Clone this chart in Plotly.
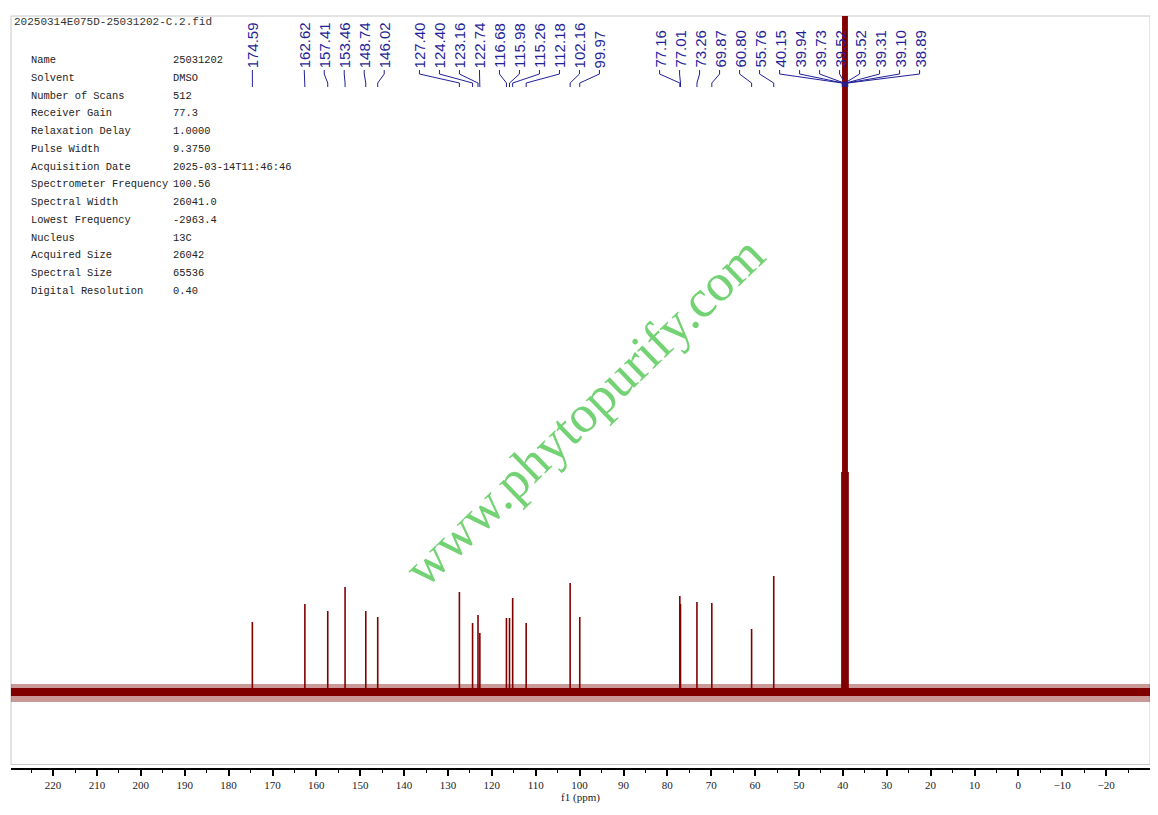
import plotly.graph_objects as go

# ---------------- data ----------------
peak_ppm = [174.59, 162.62, 157.41, 153.46, 148.74, 146.02, 127.40, 124.40, 123.16, 122.74,
            116.68, 115.98, 115.26, 112.18, 102.16, 99.97, 77.16, 77.01, 73.26, 69.87,
            60.80, 55.76, 40.15, 39.94, 39.73, 39.52, 39.52, 39.31, 39.10, 38.89]
peak_height = [70, 88, 81, 105, 81, 75, 100, 69, 77, 59,
               74, 74, 94, 69, 109, 75, 96, 88, 90, 89,
               63, 116, 220, 700, 1300, 1500, 1500, 1300, 700, 220]
peak_label = ["174.59", "162.62", "157.41", "153.46", "148.74", "146.02", "127.40", "124.40",
              "123.16", "122.74", "116.68", "115.98", "115.26", "112.18", "102.16", "99.97",
              "77.16", "77.01", "73.26", "69.87", "60.80", "55.76", "40.15", "39.94", "39.73",
              "39.52", "39.52", "39.31", "39.10", "38.89"]

tick_vals = [220, 210, 200, 190, 180, 170, 160, 150, 140, 130, 120, 110, 100, 90, 80, 70,
             60, 50, 40, 30, 20, 10, 0, -10, -20]

file_title = "20250314E075D-25031202-C.2.fid"
param_names = ["Name", "Solvent", "Number of Scans", "Receiver Gain", "Relaxation Delay",
               "Pulse Width", "Acquisition Date", "Spectrometer Frequency", "Spectral Width",
               "Lowest Frequency", "Nucleus", "Acquired Size", "Spectral Size",
               "Digital Resolution"]
param_values = ["25031202", "DMSO", "512", "77.3", "1.0000", "9.3750", "2025-03-14T11:46:46",
                "100.56", "26041.0", "-2963.4", "13C", "26042", "65536", "0.40"]

watermark = "www.phytopurify.com"

# ---------------- layout constants ----------------
PAGE_W, PAGE_H = 1158, 815
BODY = 8                      # default page body margin
W, H = PAGE_W - BODY, PAGE_H - BODY
PLOT_L, PLOT_R, PLOT_T, PLOT_B = 11, 1150, 16, 769   # plot area in page pixels
L, R, T, B = PLOT_L - BODY, PAGE_W - PLOT_R, PLOT_T - BODY, PAGE_H - PLOT_B
X_RANGE = [229.6, -30.0]
Y_DOMAIN0 = 0.006
Y_RANGE = [-72.5, 676]
NOISE_INNER, NOISE_OUTER = 4, 8
SPEC = "#800000"
LABEL_COLOR = "#1f1f99"
px_per_ppm = (PLOT_R - PLOT_L) / (X_RANGE[0] - X_RANGE[1])
label_gap = 20 / px_per_ppm

dom_bottom_px = PLOT_B - Y_DOMAIN0 * (PLOT_B - PLOT_T)


def px_paper(px, py):
    return (px - PLOT_L) / (PLOT_R - PLOT_L), (PLOT_B - py) / (PLOT_B - PLOT_T)


# ---------------- label spreading (isotonic regression) ----------------
def spread(targets, gap):
    s = [t + i * gap for i, t in enumerate(targets)]
    blocks = []  # [sum, count]
    for v in s:
        blocks.append([v, 1])
        while len(blocks) > 1 and blocks[-2][0] / blocks[-2][1] < blocks[-1][0] / blocks[-1][1]:
            a = blocks.pop()
            blocks[-1][0] += a[0]
            blocks[-1][1] += a[1]
    q = []
    for sm, c in blocks:
        q += [sm / c] * c
    return [qq - i * gap for i, qq in enumerate(q)]


label_pos = spread(peak_ppm, label_gap)

fig = go.Figure()

# baseline noise band
xb = [X_RANGE[0], X_RANGE[1], X_RANGE[1], X_RANGE[0]]
fig.add_trace(go.Scatter(x=xb, y=[NOISE_OUTER, NOISE_OUTER, -NOISE_OUTER - 2, -NOISE_OUTER - 2],
                         fill="toself", fillcolor="rgba(128,0,0,0.4)", line=dict(width=0),
                         mode="lines", hoverinfo="skip", showlegend=False))
fig.add_trace(go.Scatter(x=xb, y=[NOISE_INNER, NOISE_INNER, -NOISE_INNER, -NOISE_INNER],
                         fill="toself", fillcolor=SPEC, line=dict(width=0),
                         mode="lines", hoverinfo="skip", showlegend=False))

# peaks
sx, sy, dx, dy = [], [], [], []
for p, h in zip(peak_ppm, peak_height):
    if h > 200:
        dx += [p, p, None]
        dy += [0, h, None]
    else:
        sx += [p, p, None]
        sy += [0, h, None]
fig.add_trace(go.Scatter(x=sx, y=sy, mode="lines", line=dict(color=SPEC, width=1.6),
                         hoverinfo="skip", showlegend=False))
fig.add_trace(go.Scatter(x=dx, y=dy, mode="lines", line=dict(color=SPEC, width=2.2),
                         hoverinfo="skip", showlegend=False))

# connectors (y2 in page-pixel units)
cx, cy = [], []
for p, lp in zip(peak_ppm, label_pos):
    cx += [lp, lp, p, p, None]
    cy += [70, 74, 83, 87, None]
fig.add_trace(go.Scatter(x=cx, y=cy, yaxis="y2", mode="lines",
                         line=dict(color=LABEL_COLOR, width=1),
                         hoverinfo="skip", showlegend=False))

annotations = []
for lp, txt in zip(label_pos, peak_label):
    annotations.append(dict(x=lp, y=70, xref="x", yref="y2", text=txt, textangle=-90,
                            showarrow=False, xanchor="center", yanchor="bottom",
                            font=dict(family="Liberation Sans", size=15, color=LABEL_COLOR)))

# title and parameters
x0, y0 = px_paper(12, 22)
annotations.append(dict(x=x0, y=y0, xref="paper", yref="paper", text=file_title,
                        showarrow=False, xanchor="left", yanchor="middle",
                        font=dict(family="Liberation Mono", size=11, color="#333333")))
for i, (n, v) in enumerate(zip(param_names, param_values)):
    py = 60 + i * 17.77
    xa, ya = px_paper(29, py)
    xv, _ = px_paper(171, py)
    annotations.append(dict(x=xa, y=ya, xref="paper", yref="paper", text=n, showarrow=False,
                            xanchor="left", yanchor="middle",
                            font=dict(family="Liberation Mono", size=10.4, color="#222222")))
    annotations.append(dict(x=xv, y=ya, xref="paper", yref="paper", text=v, showarrow=False,
                            xanchor="left", yanchor="middle",
                            font=dict(family="Liberation Mono", size=10.4, color="#222222")))

# watermark
wx, wy = px_paper(584, 411)
annotations.append(dict(x=wx, y=wy, xref="paper", yref="paper", text=watermark,
                        textangle=-44, showarrow=False,
                        font=dict(family="Liberation Serif", size=53, color="rgba(100,205,100,0.9)")))

fig.update_layout(
    width=W, height=H,
    margin=dict(l=L, r=R, t=T, b=B, autoexpand=False),
    paper_bgcolor="white", plot_bgcolor="white",
    showlegend=False,
    annotations=annotations,
    xaxis=dict(range=X_RANGE, anchor="free", position=0, tickmode="array", tickvals=tick_vals,
               showgrid=False, zeroline=False, showline=True, linecolor="black", linewidth=2,
               ticks="outside", ticklen=6, tickwidth=1.5, tickcolor="black", automargin=False,
               minor=dict(dtick=5, ticks="outside", ticklen=3, tickwidth=1.2, tickcolor="black"),
               tickfont=dict(family="Liberation Serif", size=11, color="#222222"),
               title=dict(text="f1 (ppm)", standoff=2,
                          font=dict(family="Liberation Serif", size=11, color="#222222"))),
    yaxis=dict(domain=[Y_DOMAIN0, 1], range=Y_RANGE, visible=False, showgrid=False,
               zeroline=False),
    yaxis2=dict(overlaying="y", range=[dom_bottom_px, PLOT_T], visible=False,
                showgrid=False, zeroline=False),
    shapes=[dict(type="rect", xref="x domain", yref="y domain", x0=0, x1=1, y0=0, y1=1,
                 line=dict(color="#c8c8c8", width=1), layer="below")],
)

fig.write_html("out.html")
